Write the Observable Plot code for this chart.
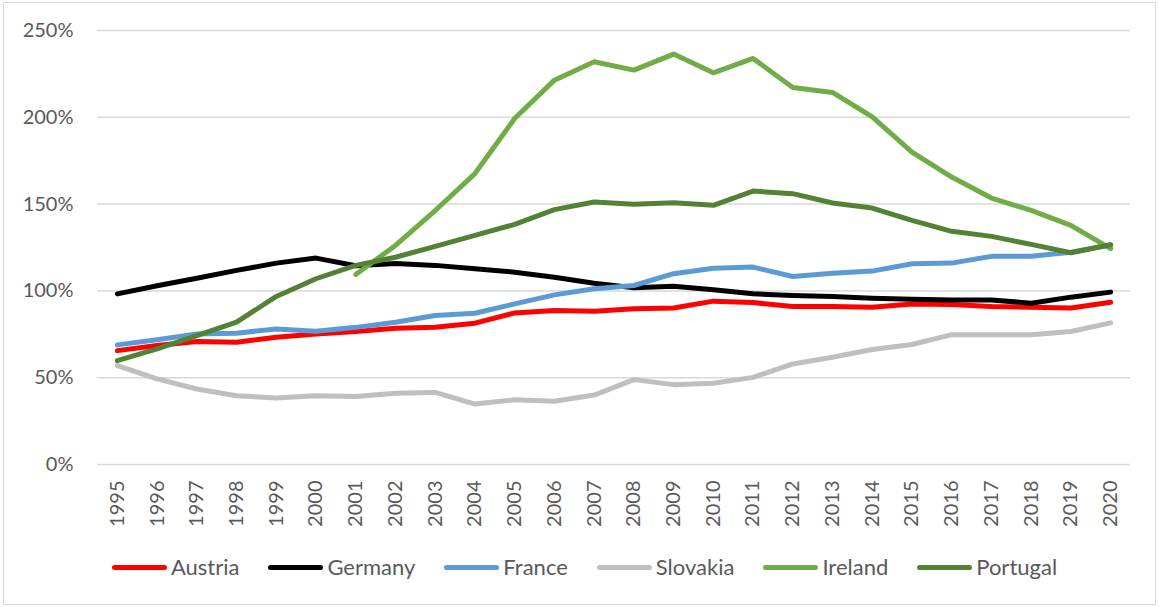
<!DOCTYPE html>
<html><head><meta charset="utf-8">
<script src="https://cdn.jsdelivr.net/npm/d3@7"></script>
<script src="https://cdn.jsdelivr.net/npm/@observablehq/plot@0.6"></script>
<style>
body{margin:0;background:#fff;font-family:Lato,"Open Sans",sans-serif;}
#frame{position:absolute;left:3px;top:2px;width:1153px;height:603px;border:1.5px solid #d9d9d9;box-sizing:border-box;}
#chart{position:absolute;left:0;top:0;}
#legend{position:absolute;left:0;top:553px;width:1159px;display:flex;justify-content:center;gap:29px;padding-left:10px;box-sizing:border-box;}
.item{display:flex;align-items:center;font-size:22px;color:#595959;line-height:28px;}
.sw{display:inline-block;width:55px;height:5px;border-radius:3px;margin-right:4px;}
</style></head>
<body>
<div id="frame"></div>
<div id="chart"></div>
<div id="legend"></div>
<script>
const years = [1995,1996,1997,1998,1999,2000,2001,2002,2003,2004,2005,2006,2007,2008,2009,2010,2011,2012,2013,2014,2015,2016,2017,2018,2019,2020];
const countries = ["Austria","Germany","France","Slovakia","Ireland","Portugal"];
const colors = ["#ff0000","#000000","#5b9bd5","#bfbfbf","#70ad47","#548235"];
const austria  = [65.6,68.5,70.8,70.4,73.3,75.2,76.6,78.5,79.0,81.4,87.3,88.7,88.3,89.7,90.2,94.1,93.3,91.0,91.0,90.6,92.5,92.2,91.0,90.6,90.2,93.5];
const germany  = [98.3,103.0,107.3,111.8,116.0,118.9,114.5,115.8,114.7,112.7,110.8,107.9,104.4,101.8,102.7,100.6,98.3,97.3,96.8,95.8,95.2,94.8,94.8,92.9,96.4,99.3];
const france   = [68.9,71.8,75.2,75.6,78.1,76.7,79.0,81.9,85.8,87.1,92.5,97.7,101.2,103.1,109.9,113.1,113.7,108.3,110.2,111.4,115.6,116.0,119.9,119.9,122.3,126.5];
const slovakia = [57.0,49.3,43.5,39.6,38.3,39.6,39.2,41.0,41.5,34.8,37.3,36.4,40.0,48.9,46.0,46.8,50.2,57.9,61.8,66.2,69.1,74.8,74.8,74.8,76.6,81.6];
const ireland  = [null,null,null,null,null,null,109.5,126.2,146.3,167.6,199.3,221.4,232.0,227.2,236.4,225.6,233.9,217.2,214.3,200.2,180.0,165.6,153.5,146.4,137.7,124.3];
const portugal = [59.8,66.6,74.3,82.0,96.8,107.0,114.7,119.4,125.6,132.0,138.3,146.8,151.2,149.9,150.8,149.3,157.5,156.0,150.6,147.7,140.6,134.3,131.4,126.8,122.0,126.6];
const yTicks = [0,50,100,150,200,250];

const series = [austria,germany,france,slovakia,ireland,portugal];
const rows = [];
countries.forEach((c,i)=>years.forEach((y,j)=>rows.push({country:c,year:y,value:series[i][j]})));

const chart = Plot.plot({
  width:1159, height:545,
  marginLeft:97, marginRight:29, marginTop:30, marginBottom:81,
  style:{fontFamily:"Lato, 'Open Sans', sans-serif", color:"#595959", background:"transparent"},
  x:{domain:[years[0]-0.5, years[years.length-1]+0.5]},
  y:{domain:[0,250]},
  color:{domain:countries, range:colors},
  marks:[
    Plot.gridY(yTicks,{stroke:"#d9d9d9", strokeOpacity:1, strokeWidth:1.5}),
    Plot.axisY(yTicks,{tickSize:0, tickPadding:24, tickFormat:d=>d+"%", fontSize:20, label:null}),
    Plot.axisX(years,{tickSize:0, tickPadding:16, tickRotate:-90, tickFormat:d=>String(d), fontSize:20, label:null}),
    Plot.line(rows,{x:"year", y:"value", z:"country", stroke:"country", strokeWidth:5, strokeLinecap:"round", strokeLinejoin:"round"})
  ]
});
document.getElementById("chart").appendChild(chart);

const leg = document.getElementById("legend");
countries.forEach((c,i)=>{
  const it = document.createElement("div"); it.className="item";
  const sw = document.createElement("span"); sw.className="sw"; sw.style.background=colors[i];
  it.appendChild(sw); it.appendChild(document.createTextNode(c));
  leg.appendChild(it);
});
</script>
</body></html>
